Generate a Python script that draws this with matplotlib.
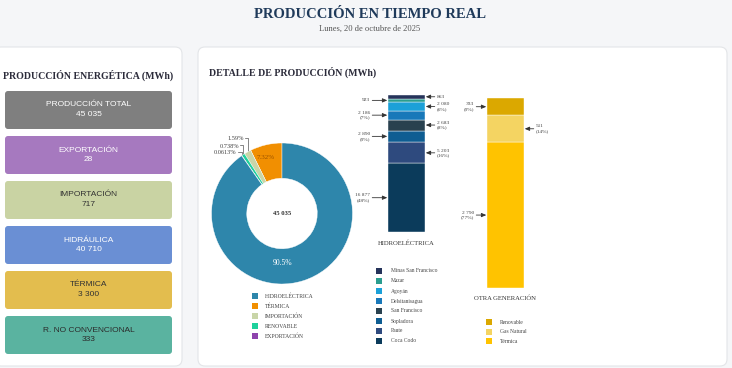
import matplotlib
matplotlib.use("Agg")
import matplotlib.pyplot as plt
from matplotlib.patches import FancyBboxPatch, Rectangle

# ---------------- data ----------------
card_labels = ["PRODUCCIÓN TOTAL", "EXPORTACIÓN", "IMPORTACIÓN", "HIDRÁULICA", "TÉRMICA", "R. NO CONVENCIONAL"]
card_values = ["45 035", "28", "717", "40 710", "3 300", "333"]
card_colors = ["#7f7f7f", "#a679bf", "#c9d3a3", "#6a8fd4", "#e3bd4e", "#5ab3a0"]
card_text_colors = ["white", "white", "#333333", "white", "#333333", "#2b2b2b"]

donut_labels = ["HIDROELÉCTRICA", "TÉRMICA", "IMPORTACIÓN", "RENOVABLE", "EXPORTACIÓN"]
donut_values = [40710, 3300, 717, 333, 28]
donut_pct_text = ["90.5%", "7.32%", "1.59%", "0.738%", "0.0613%"]
donut_colors = ["#2e86ab", "#f18f01", "#c9d5a8", "#1fd19c", "#8e44ad"]
donut_center = "45 035"

hydro_names = ["Coca Codo", "Paute", "Sopladora", "San Francisco", "Delsitanisagua",
               "Agoyán", "Mazar", "Minas San Francisco"]          # bottom -> top
hydro_values = [16877, 5203, 2890, 2683, 2186, 2080, 923, 863]
hydro_labels = ["16 877\n(48%)", "5 203\n(16%)", "2 890\n(9%)", "2 683\n(8%)",
                "2 186\n(7%)", "2 080\n(6%)", "923", "863"]
hydro_side = ["L", "R", "L", "R", "L", "R", "L", "R"]
hydro_colors = ["#0b3b5b", "#2e4a7e", "#0e5d92", "#29414f", "#1878b9", "#1ba0d8", "#2a9d8f", "#25335a"]

other_names = ["Térmica", "Gas Natural", "Renovable"]               # bottom -> top
other_values = [2790, 511, 333]
other_labels = ["2 790\n(77%)", "511\n(14%)", "333\n(9%)"]
other_side = ["L", "R", "L"]
other_colors = ["#ffc300", "#f4d462", "#dba800"]

# ---------------- figure ----------------
W, H = 732, 368
fig = plt.figure(figsize=(W / 100, H / 100), dpi=100)
fig.patch.set_facecolor("#f5f6f8")
SERIF = "Liberation Serif"
SANS = "Liberation Sans"

bg = fig.add_axes([0, 0, 1, 1])
bg.set_xlim(0, W)
bg.set_ylim(H, 0)
bg.axis("off")


def fbox(x0, y0, x1, y1):
    return [x0 / W, 1 - y1 / H, (x1 - x0) / W, (y1 - y0) / H]


# panels
for (x0, y0, x1, y1) in [(-6, 47, 182, 366), (198, 47, 727, 366)]:
    bg.add_patch(FancyBboxPatch((x0, y0), x1 - x0, y1 - y0,
                                boxstyle="round,pad=0,rounding_size=7",
                                fc="white", ec="#e3e5e8", lw=0.8, zorder=1))

# titles
bg.text(370, 15, "PRODUCCIÓN EN TIEMPO REAL", ha="center", va="center",
        fontsize=10.5, fontweight="bold", family=SERIF, color="#1f3a5a")
bg.text(370, 29, "Lunes, 20 de octubre de 2025", ha="center", va="center",
        fontsize=6.1, family=SERIF, color="#555555")
bg.text(88.5, 75.5, "PRODUCCIÓN ENERGÉTICA (MWh)", ha="center", va="center",
        fontsize=7.1, fontweight="bold", family=SERIF, color="#2b2b3a")
bg.text(209, 72, "DETALLE DE PRODUCCIÓN (MWh)", ha="left", va="center",
        fontsize=7.1, fontweight="bold", family=SERIF, color="#2b2b3a")

# cards
for i, (lab, val, col, tc) in enumerate(zip(card_labels, card_values, card_colors, card_text_colors)):
    y0 = 91 + 45 * i
    bg.add_patch(FancyBboxPatch((5, y0), 167, 38, boxstyle="round,pad=0,rounding_size=3",
                                fc=col, ec="none", zorder=2))
    bg.text(88.5, y0 + 14, lab, ha="center", va="center", fontsize=6.0, family=SANS, color=tc, zorder=3)
    bg.text(88.5, y0 + 23.5, val, ha="center", va="center", fontsize=6.0, family=SANS, color=tc, zorder=3)

# ---------------- donut ----------------
cx, cy, R = 282, 213.5, 70.5
axd = fig.add_axes(fbox(cx - R, cy - R, cx + R, cy + R))
order = [1, 2, 3, 4, 0]  # counterclockwise from top: térmica, import, renov, export, hydro
wedges, _ = axd.pie([donut_values[i] for i in order], colors=[donut_colors[i] for i in order],
                    startangle=90, counterclock=True, radius=1,
                    wedgeprops=dict(width=0.5, edgecolor="white", linewidth=0.3))
axd.set_xlim(-1, 1)
axd.set_ylim(-1, 1)
axd.set_aspect("equal")
axd.axis("off")
axd.text(0, 0, donut_center, ha="center", va="center", fontsize=4.8, family=SERIF,
         fontweight="bold", color="#333333")
axd.text(0.01, -0.70, donut_pct_text[0], ha="center", va="center", fontsize=5.5, family=SERIF, color="white")
axd.text(-0.23, 0.80, donut_pct_text[1], ha="center", va="center", fontsize=5.0, family=SERIF, color="#9a5200")

# leader labels for small slices (in bg pixel coords)
small = [(2, 245, 139, 247.5, 152), (3, 240, 146, 243.0, 154.7), (4, 237.5, 153, 241.8, 155.6)]
for idx, tx, ty, px, py in small:
    bg.text(tx - 1, ty, donut_pct_text[idx], ha="right", va="center", fontsize=4.6,
            family=SERIF, color="#444444", zorder=5)
    bg.plot([tx, px, px], [ty - 1.5, ty - 1.5, py], color="#555555", lw=0.5, zorder=5)

# donut legend
for i, (lab, col) in enumerate(zip(donut_labels, donut_colors)):
    y = 296 + 10 * i
    bg.add_patch(Rectangle((252, y - 3), 6, 6, fc=col, ec="none", zorder=3))
    bg.text(265, y, lab, ha="left", va="center", fontsize=4.1, family=SERIF, color="#444444")

# ---------------- stacked bars ----------------
def stacked(box, values, colors, labels, sides, l_len, r_len):
    ax = fig.add_axes(fbox(*box))
    total = sum(values)
    bottom = 0
    for v, c, lab, s in zip(values, colors, labels, sides):
        ax.bar(0, v, bottom=bottom, width=1.0, color=c, edgecolor="white", linewidth=0.3)
        mid = bottom + v / 2
        if s == "L":
            xy, off, ha, toff = (-0.52, mid), (-l_len, 0), "right", -l_len - 2
        else:
            xy, off, ha, toff = (0.52, mid), (r_len, 0), "left", r_len + 2
        ax.annotate("", xy=xy, xytext=off, textcoords="offset pixels",
                    arrowprops=dict(arrowstyle="-|>,head_length=0.35,head_width=0.15",
                                    color="#333333", lw=0.6, shrinkA=0, shrinkB=0,
                                    mutation_scale=8), annotation_clip=False)
        ax.annotate(lab, xy=xy, xytext=(toff, 0), textcoords="offset pixels", ha=ha, va="center",
                    fontsize=3.9, family=SERIF, color="#444444", linespacing=1.2,
                    annotation_clip=False)
        bottom += v
    ax.set_xlim(-0.5, 0.5)
    ax.set_ylim(0, total)
    ax.axis("off")
    return ax


stacked((388, 95, 425, 232), hydro_values, hydro_colors, hydro_labels, hydro_side, 15, 9)
stacked((487, 98, 524, 288), other_values, other_colors, other_labels, other_side, 10, 9)

bg.text(406, 243, "HIDROELÉCTRICA", ha="center", va="center", fontsize=4.8, family=SERIF, color="#333333")
bg.text(505.5, 298, "OTRA GENERACIÓN", ha="center", va="center", fontsize=4.8, family=SERIF, color="#333333")

# bar legends (top -> bottom)
for i, (lab, col) in enumerate(zip(hydro_names[::-1], hydro_colors[::-1])):
    y = 271 + 10 * i
    bg.add_patch(Rectangle((376, y - 3), 6, 6, fc=col, ec="none", zorder=3))
    bg.text(391, y, lab, ha="left", va="center", fontsize=4.0, family=SERIF, color="#444444")
for i, (lab, col) in enumerate(zip(other_names[::-1], other_colors[::-1])):
    y = 322 + 9.7 * i
    bg.add_patch(Rectangle((486, y - 3), 6, 6, fc=col, ec="none", zorder=3))
    bg.text(500, y, lab, ha="left", va="center", fontsize=4.0, family=SERIF, color="#444444")

fig.savefig("out.png", dpi=100, facecolor=fig.get_facecolor())
